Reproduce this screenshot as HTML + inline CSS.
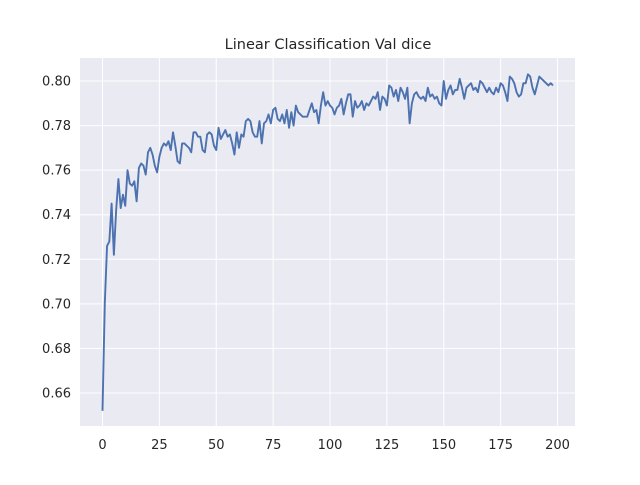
<!DOCTYPE html>
<html><head><meta charset="utf-8"><style>
body{margin:0;background:#fff;}
svg text{font-family:"DejaVu Sans","Liberation Sans",sans-serif;fill:#262626;}
</style></head><body>
<svg id="chart" width="640" height="480">
<rect x="0" y="0" width="640" height="480" fill="#fff"/>
<rect x="80" y="58" width="495" height="368" fill="#eaeaf2"/>
<g id="grid"></g><g id="ticks"></g><g id="series"></g>
<text x="328" y="49" text-anchor="middle" font-size="14.5">Linear Classification Val dice</text>
</svg>
<script>
const xTicks=[0,25,50,75,100,125,150,175,200];
const yTicks=[0.66,0.68,0.70,0.72,0.74,0.76,0.78,0.80];
const valDice=[.652,.700,.726,.728,.745,.722,.742,.756,.743,.749,.744,.760,.754,.753,.755,.746,.761,.763,.762,.758,.768,.770,.767,.762,.759,.766,.770,.772,.771,.773,.769,.777,.771,.764,.763,.772,.772,.771,.770,.768,.777,.777,.775,.775,.769,.768,.776,.777,.776,.771,.769,.779,.774,.776,.778,.775,.776,.772,.767,.777,.770,.776,.775,.782,.783,.782,.777,.775,.775,.782,.772,.781,.782,.785,.781,.787,.788,.783,.782,.785,.781,.787,.779,.786,.780,.789,.786,.785,.784,.784,.784,.787,.790,.786,.787,.781,.789,.795,.789,.791,.789,.788,.785,.788,.789,.792,.785,.790,.794,.794,.784,.791,.788,.789,.791,.787,.790,.789,.791,.793,.792,.795,.787,.793,.792,.789,.798,.797,.793,.796,.791,.797,.795,.792,.797,.781,.790,.794,.795,.793,.792,.793,.791,.797,.793,.794,.792,.793,.790,.789,.800,.792,.796,.798,.794,.796,.796,.801,.797,.792,.797,.798,.799,.796,.797,.795,.800,.799,.797,.795,.797,.795,.794,.797,.795,.799,.798,.795,.791,.802,.801,.799,.795,.793,.794,.799,.799,.803,.802,.797,.794,.798,.802,.801,.800,.799,.798,.799,.798];
const NS='http://www.w3.org/2000/svg';
const sx=v=>102.5+(v/200)*455;
const sy=v=>393-(v-0.66)/0.02*44.57;
const grid=document.getElementById('grid'),ticks=document.getElementById('ticks'),series=document.getElementById('series');
xTicks.forEach(t=>{
 const l=document.createElementNS(NS,'line');
 l.setAttribute('x1',sx(t));l.setAttribute('x2',sx(t));l.setAttribute('y1',58);l.setAttribute('y2',426);
 l.setAttribute('stroke','#fff');l.setAttribute('stroke-width','1');
 
 
 grid.appendChild(l);
 const tx=document.createElementNS(NS,'text');
 tx.setAttribute('x',sx(t));tx.setAttribute('y',449);tx.setAttribute('text-anchor','middle');tx.setAttribute('font-size','13');
 tx.textContent=t;
 
 
 ticks.appendChild(tx);
});
yTicks.forEach(t=>{
 const l=document.createElementNS(NS,'line');
 l.setAttribute('x1',80);l.setAttribute('x2',575);l.setAttribute('y1',sy(t));l.setAttribute('y2',sy(t));
 l.setAttribute('stroke','#fff');l.setAttribute('stroke-width','1');
 
 
 grid.appendChild(l);
 const tx=document.createElementNS(NS,'text');
 tx.setAttribute('x',71);tx.setAttribute('y',sy(t)+4.5);tx.setAttribute('text-anchor','end');tx.setAttribute('font-size','13');
 tx.textContent=t.toFixed(2);
 
 
 ticks.appendChild(tx);
});
const p=document.createElementNS(NS,'path');
p.setAttribute('d',valDice.map((v,i)=>(i?'L':'M')+sx(i).toFixed(2)+','+sy(v).toFixed(2)).join(''));
p.setAttribute('fill','none');p.setAttribute('stroke','#4c72b0');p.setAttribute('stroke-width','1.9');p.setAttribute('stroke-linejoin','round');


series.appendChild(p);
</script>
</body></html>
